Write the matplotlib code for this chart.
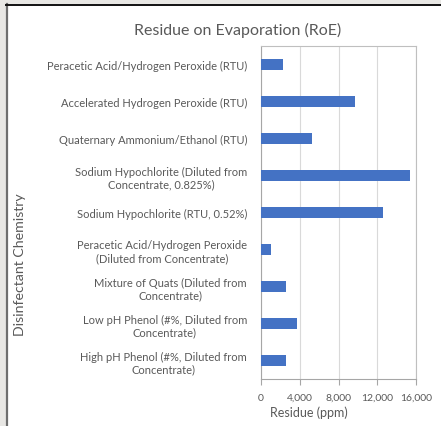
import numpy as np
import matplotlib.pyplot as plt
from matplotlib.patches import Rectangle
from matplotlib.lines import Line2D
from matplotlib.ticker import FuncFormatter

plt.rcParams['font.family'] = ['Lato', 'DejaVu Sans']

chemistries = [
    'Peracetic Acid/Hydrogen Peroxide (RTU)',
    'Accelerated Hydrogen Peroxide (RTU)',
    'Quaternary Ammonium/Ethanol (RTU)',
    'Sodium Hypochlorite (Diluted from\nConcentrate, 0.825%)',
    'Sodium Hypochlorite (RTU, 0.52%)',
    'Peracetic Acid/Hydrogen Peroxide\n(Diluted from Concentrate)',
    'Mixture of Quats (Diluted from\nConcentrate)',
    'Low pH Phenol (#%, Diluted from\nConcentrate)',
    'High pH Phenol (#%, Diluted from\nConcentrate)',
]
residue_ppm = [2300, 9700, 5300, 15400, 12600, 1000, 2600, 3700, 2600]
x_ticks = [0, 4000, 8000, 12000, 16000]

fig = plt.figure(figsize=(4.41, 4.27), dpi=100)
ax = fig.add_axes([261 / 441, 1 - 380 / 427, 155 / 441, 333 / 427])

y = np.arange(len(chemistries))
ax.barh(y, residue_ppm, height=0.32, color='#4472c4', zorder=3)
ax.set_yticks(y)
ax.set_yticklabels(chemistries)
ax.set_ylim(len(chemistries) - 0.5, -0.5)
ax.set_xlim(0, 16000)
ax.set_xticks(x_ticks)
ax.xaxis.set_major_formatter(FuncFormatter(lambda v, p: f'{int(v):,}'))

for lab in ax.get_yticklabels():
    lab.set_multialignment('center')

ax.tick_params(axis='y', length=0, pad=10, labelsize=8, labelcolor='#595959')
ax.tick_params(axis='x', length=4, width=0.8, color='#a6a6a6', pad=6,
               labelsize=7.5, labelcolor='#595959')
ax.grid(axis='x', color='#d9d9d9', linewidth=0.8, zorder=0)

for side in ['top', 'right']:
    ax.spines[side].set_color('#bfbfbf')
    ax.spines[side].set_linewidth(0.8)
ax.spines['left'].set_color('#a6a6a6')
ax.spines['bottom'].set_color('#a6a6a6')

ax.set_xlabel('Residue (ppm)', fontsize=9, color='#595959')
ax.xaxis.set_label_coords(0.31, -0.08)

fig.text(238 / 441, 1 - 30 / 427, 'Residue on Evaporation (RoE)', ha='center',
         va='center', fontsize=11.5, color='#595959')
fig.text(20 / 441, 1 - 265 / 427, 'Disinfectant Chemistry', rotation=90,
         ha='center', va='center', fontsize=10.2, color='#595959')

# grey window edge on the left and top
fig.patches.append(Rectangle((0, 0), 6 / 441, 1, transform=fig.transFigure,
                             facecolor='#e8e7e4', edgecolor='none'))
fig.patches.append(Rectangle((0, 1 - 5 / 427), 1, 5 / 427, transform=fig.transFigure,
                             facecolor='#e8e7e4', edgecolor='none'))
fig.lines.append(Line2D([6.5 / 441, 6.5 / 441], [0, 1 - 5 / 427], transform=fig.transFigure,
                        color='#6e6e6e', linewidth=1.6))
fig.lines.append(Line2D([6 / 441, 1], [1 - 5.5 / 427, 1 - 5.5 / 427], transform=fig.transFigure,
                        color='#111111', linewidth=1.4))

fig.savefig('out.png', dpi=100)
